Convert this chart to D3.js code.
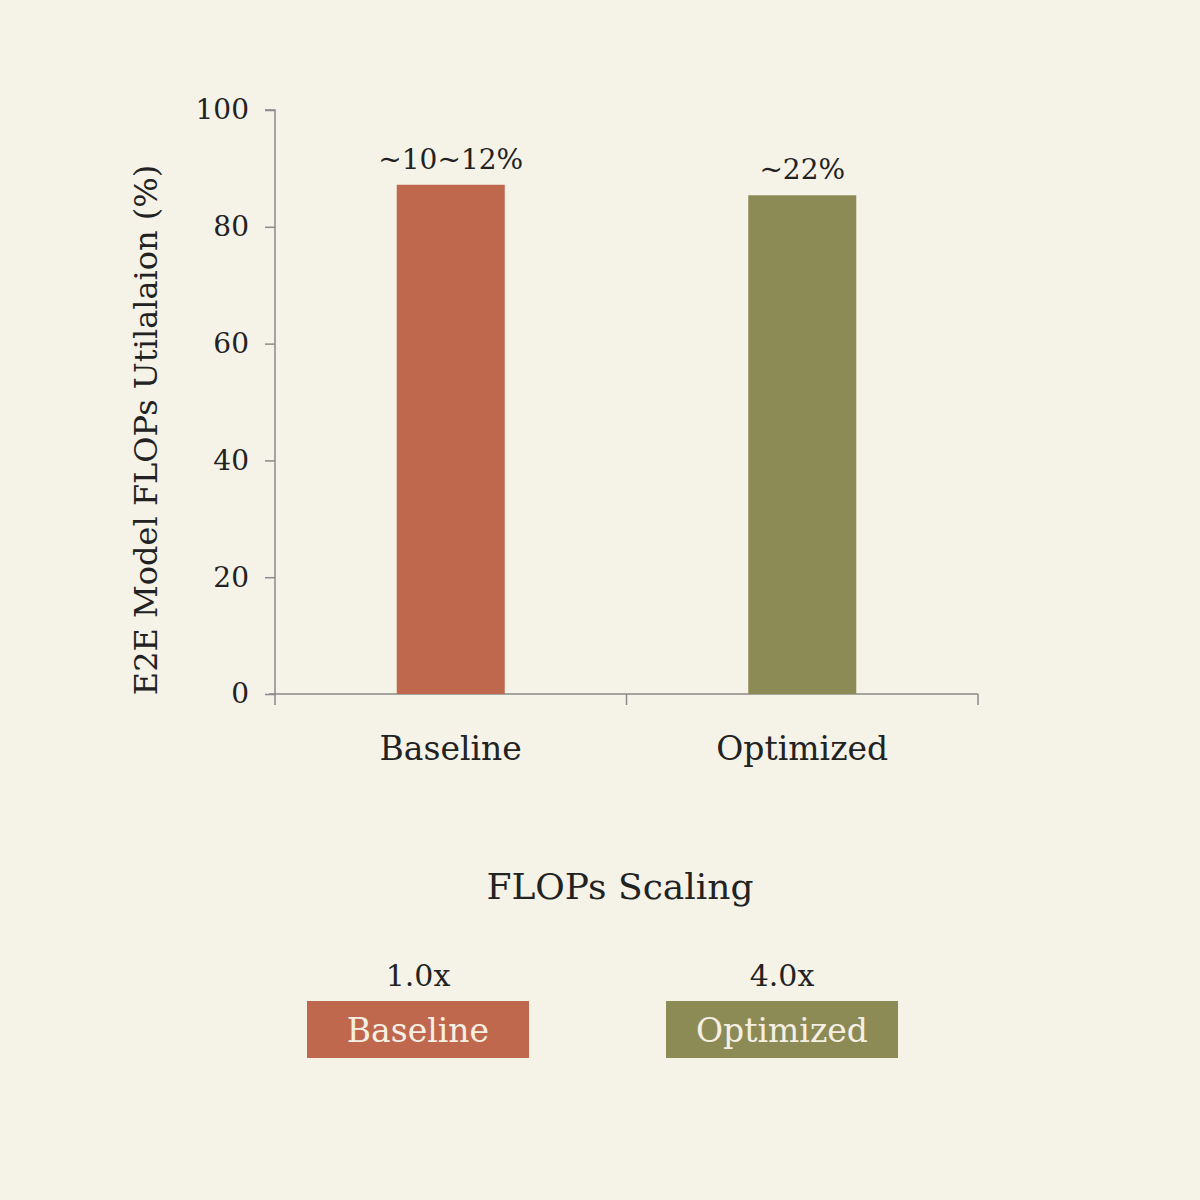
<!DOCTYPE html>
<html>
<head>
<meta charset="utf-8">
<script src="https://cdn.jsdelivr.net/npm/d3@7"></script>
<style>
  body { margin: 0; background: #f5f2e8; }
  svg text { font-family: "DejaVu Serif", "Liberation Serif", serif; fill: #222; }
</style>
</head>
<body>
<div id="plot"></div>
<script>
// chart data
const categories = ["Baseline", "Optimized"];
const values = [87.2, 85.4];
const barLabels = ["~10~12%", "~22%"];
const yTicks = [0, 20, 40, 60, 80, 100];
const scalingLabels = ["1.0x", "4.0x"];
const colors = ["#c0684d", "#8c8b56"];

const svg = d3.select("#plot")
    .append("svg")
    .attr("width", 1200)
    .attr("height", 1200);

svg.append("rect")
    .attr("width", 1200)
    .attr("height", 1200)
    .attr("fill", "#f5f2e8");

const margin = { top: 110, left: 275 };
const width = 703;
const height = 584;

const g = svg.append("g")
    .attr("transform", "translate(" + margin.left + "," + margin.top + ")");

const x = d3.scaleBand()
    .domain(categories)
    .range([0, width])
    .paddingInner(0)
    .paddingOuter(0);

const barW = 108;

const y = d3.scaleLinear()
    .domain([0, 100])
    .range([height, 0]);

// y axis
const yAxis = g.append("g")
    .call(d3.axisLeft(y).tickValues(yTicks).tickSize(10).tickPadding(16));
yAxis.select(".domain").attr("stroke", "#8a8a8a").attr("stroke-width", 1.5).attr("d", "M-10,0H0V" + height);
yAxis.selectAll(".tick line").attr("stroke", "#8a8a8a").attr("stroke-width", 1.5);
yAxis.selectAll(".tick text")
    .style("font-size", "28px")
    .style("font-family", "'DejaVu Serif', serif")
    .attr("fill", "#222");

// x axis: ticks at band edges
g.append("line")
    .attr("x1", -6).attr("x2", width)
    .attr("y1", height).attr("y2", height)
    .attr("stroke", "#8a8a8a").attr("stroke-width", 1.5);
const edges = [0].concat(categories.map(c => x(c) + x.bandwidth()));
g.selectAll(".xtick")
    .data(edges)
    .enter().append("line")
    .attr("x1", d => d).attr("x2", d => d)
    .attr("y1", height).attr("y2", height + 11)
    .attr("stroke", "#8a8a8a").attr("stroke-width", 1.5);

// bars
g.selectAll(".bar")
    .data(categories)
    .enter().append("rect")
    .attr("x", d => x(d) + x.bandwidth() / 2 - barW / 2)
    .attr("y", (d, i) => y(values[i]))
    .attr("width", barW)
    .attr("height", (d, i) => height - y(values[i]))
    .attr("fill", (d, i) => colors[i]);

// bar labels
g.selectAll(".blabel")
    .data(categories)
    .enter().append("text")
    .attr("x", d => x(d) + x.bandwidth() / 2)
    .attr("y", (d, i) => y(values[i]) - 16)
    .attr("text-anchor", "middle")
    .style("font-size", "28px")
    .text((d, i) => barLabels[i]);

// category labels
g.selectAll(".xlabel")
    .data(categories)
    .enter().append("text")
    .attr("x", d => x(d) + x.bandwidth() / 2)
    .attr("y", height + 66)
    .attr("text-anchor", "middle")
    .style("font-size", "33px")
    .text(d => d);

// y title
svg.append("text")
    .attr("transform", "translate(157,430) rotate(-90)")
    .attr("text-anchor", "middle")
    .style("font-size", "32px")
    .text("E2E Model FLOPs Utilalaion (%)");

// scaling title
svg.append("text")
    .attr("x", 620)
    .attr("y", 899)
    .attr("text-anchor", "middle")
    .style("font-size", "36px")
    .text("FLOPs Scaling");

// legend
const legendX = d3.scaleOrdinal().domain(categories).range([418, 782]);
const legendW = [222, 232];

const leg = svg.selectAll(".leg")
    .data(categories)
    .enter().append("g");

leg.append("text")
    .attr("x", d => legendX(d))
    .attr("y", 986)
    .attr("text-anchor", "middle")
    .style("font-size", "30px")
    .text((d, i) => scalingLabels[i]);

leg.append("rect")
    .attr("x", (d, i) => legendX(d) - legendW[i] / 2)
    .attr("y", 1001)
    .attr("width", (d, i) => legendW[i])
    .attr("height", 57)
    .attr("fill", (d, i) => colors[i]);

leg.append("text")
    .attr("x", d => legendX(d))
    .attr("y", 1042)
    .attr("text-anchor", "middle")
    .style("font-size", "33px")
    .style("fill", "#f6f0e4")
    .text(d => d);
</script>
</body>
</html>
